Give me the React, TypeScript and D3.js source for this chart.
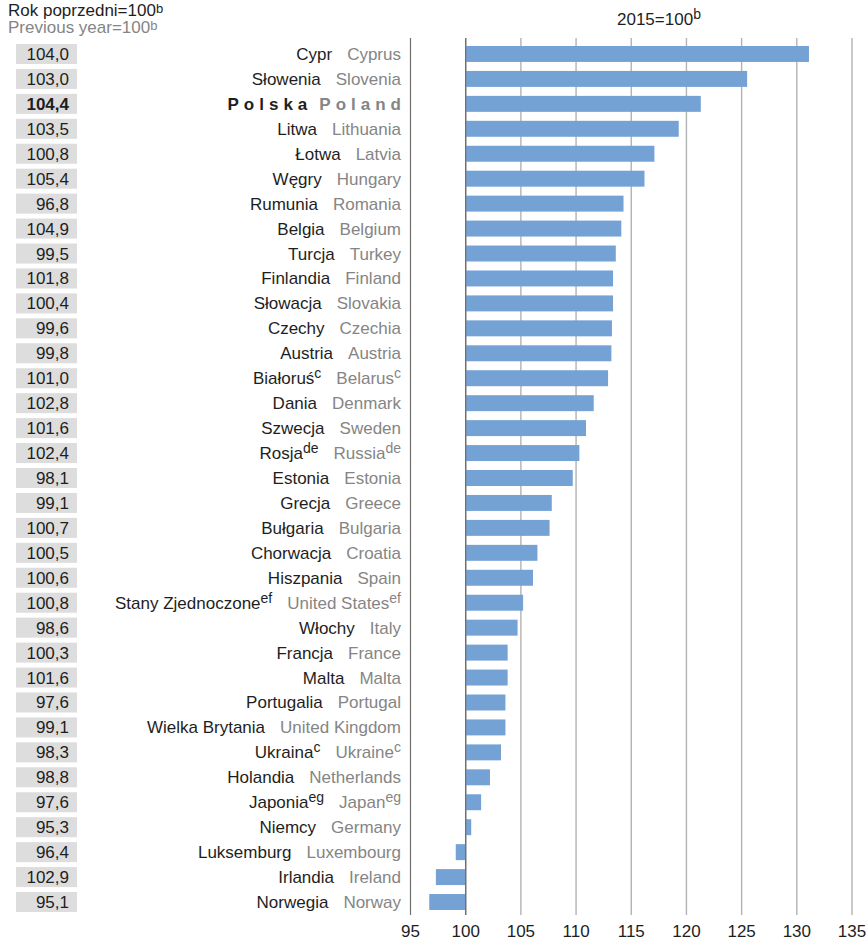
import React from 'react';
import * as d3 from 'd3';

const countriesPL = [
  'Cypr', 'Słowenia', 'Polska', 'Litwa', 'Łotwa', 'Węgry', 'Rumunia', 'Belgia', 'Turcja', 'Finlandia',
  'Słowacja', 'Czechy', 'Austria', 'Białoruś', 'Dania', 'Szwecja', 'Rosja', 'Estonia', 'Grecja', 'Bułgaria',
  'Chorwacja', 'Hiszpania', 'Stany Zjednoczone', 'Włochy', 'Francja', 'Malta', 'Portugalia', 'Wielka Brytania',
  'Ukraina', 'Holandia', 'Japonia', 'Niemcy', 'Luksemburg', 'Irlandia', 'Norwegia',
];
const countriesEN = [
  'Cyprus', 'Slovenia', 'Poland', 'Lithuania', 'Latvia', 'Hungary', 'Romania', 'Belgium', 'Turkey', 'Finland',
  'Slovakia', 'Czechia', 'Austria', 'Belarus', 'Denmark', 'Sweden', 'Russia', 'Estonia', 'Greece', 'Bulgaria',
  'Croatia', 'Spain', 'United States', 'Italy', 'France', 'Malta', 'Portugal', 'United Kingdom',
  'Ukraine', 'Netherlands', 'Japan', 'Germany', 'Luxembourg', 'Ireland', 'Norway',
];
const notes = [
  '', '', '', '', '', '', '', '', '', '',
  '', '', '', 'c', '', '', 'de', '', '', '',
  '', '', 'ef', '', '', '', '', '',
  'c', '', 'eg', '', '', '', '',
];
const index2015 = [
  131.1, 125.5, 121.3, 119.3, 117.1, 116.2, 114.3, 114.1, 113.6, 113.35,
  113.35, 113.25, 113.2, 112.9, 111.6, 110.9, 110.3, 109.7, 107.8, 107.6,
  106.5, 106.1, 105.2, 104.7, 103.8, 103.8, 103.6, 103.6,
  103.2, 102.2, 101.4, 100.5, 99.1, 97.3, 96.7,
];
const prevYear = [
  104.0, 103.0, 104.4, 103.5, 100.8, 105.4, 96.8, 104.9, 99.5, 101.8,
  100.4, 99.6, 99.8, 101.0, 102.8, 101.6, 102.4, 98.1, 99.1, 100.7,
  100.5, 100.6, 100.8, 98.6, 100.3, 101.6, 97.6, 99.1,
  98.3, 98.8, 97.6, 95.3, 96.4, 102.9, 95.1,
];
const xTicks = [95, 100, 105, 110, 115, 120, 125, 130, 135];
const highlight = 'Polska';

const FONT = '"Liberation Sans", Arial, Helvetica, sans-serif';
const BAR = '#74a2d5';
const DARK = '#1e1e1e';
const GREY = '#858585';
const FS = 17;
const SUP = 14;

export default function App() {
  const W = 866;
  const H = 940;
  const x = d3.scaleLinear().domain([95, 135]).range([410.5, 852]);
  const y = d3
    .scaleBand<string>()
    .domain(countriesPL)
    .range([41.5, 914.5])
    .paddingInner(0.36)
    .paddingOuter(0.18);
  const fmt = (v: number) => d3.format('.1f')(v).replace('.', ',');
  const gridTop = 38;
  const gridBottom = 915;

  return (
    <svg
      width={W}
      height={H}
      style={{ position: 'absolute', left: 0, top: 0, background: '#fff' }}
      fontFamily={FONT}
    >
      {/* header texts */}
      <text x={8} y={16} fontSize={FS} fill={DARK}>
        Rok poprzedni=100
        <tspan fontSize={13} dy={-3}>b</tspan>
      </text>
      <text x={8} y={33} fontSize={FS} fill={GREY}>
        Previous year=100
        <tspan fontSize={13} dy={-3}>b</tspan>
      </text>
      <text x={617} y={25} fontSize={FS} fill={DARK}>
        2015=100
        <tspan fontSize={SUP} dy={-6}>b</tspan>
      </text>

      {/* gridlines */}
      {xTicks.map((t) => (
        <line
          key={t}
          x1={x(t)}
          x2={x(t)}
          y1={gridTop}
          y2={gridBottom}
          stroke={t === 95 || t === 100 ? '#6f6f6f' : '#b3b3b3'}
          strokeWidth={t === 95 || t === 100 ? 1.2 : 1.4}
        />
      ))}
      {xTicks.map((t) => (
        <text key={'l' + t} x={x(t)} y={937} fontSize={FS} fill={DARK} textAnchor="middle">
          {t}
        </text>
      ))}

      {/* bars */}
      {countriesPL.map((c, i) => {
        const v = index2015[i];
        const x0 = x(Math.min(100, v));
        const x1 = x(Math.max(100, v));
        return (
          <rect
            key={'b' + c}
            x={x0}
            y={y(c)}
            width={x1 - x0}
            height={y.bandwidth()}
            fill={BAR}
          />
        );
      })}
      <line x1={x(100)} x2={x(100)} y1={gridTop} y2={gridBottom} stroke="#6f6f6f" strokeWidth={1.2} />

      {/* left value boxes */}
      {countriesPL.map((c, i) => {
        const cy = (y(c) as number) + y.bandwidth() / 2;
        const bold = c === highlight;
        return (
          <g key={'v' + c}>
            <rect x={16} y={cy - 10} width={61} height={20} fill="#dddddd" />
            <text
              x={69}
              y={cy + 6}
              fontSize={FS}
              fill={DARK}
              textAnchor="end"
              fontWeight={bold ? 'bold' : 'normal'}
            >
              {fmt(prevYear[i])}
            </text>
          </g>
        );
      })}

      {/* country labels */}
      {countriesPL.map((c, i) => {
        const cy = (y(c) as number) + y.bandwidth() / 2;
        const n = notes[i];
        if (c === highlight) {
          return (
            <text
              key={'c' + c}
              x={401 + 5}
              y={cy + 6}
              fontSize={FS}
              fontWeight="bold"
              letterSpacing={5}
              textAnchor="end"
            >
              <tspan fill={DARK}>{c}</tspan>
              <tspan fill={GREY} dx={7}>{countriesEN[i]}</tspan>
            </text>
          );
        }
        return (
          <text key={'c' + c} x={401} y={cy + 6} fontSize={FS} textAnchor="end">
            <tspan fill={DARK}>{c}</tspan>
            {n ? (
              <tspan fill={DARK} fontSize={SUP} dy={-6}>
                {n}
              </tspan>
            ) : null}
            <tspan fill={GREY} dx={15} dy={n ? 6 : 0}>
              {countriesEN[i]}
            </tspan>
            {n ? (
              <tspan fill={GREY} fontSize={SUP} dy={-6}>
                {n}
              </tspan>
            ) : null}
          </text>
        );
      })}
    </svg>
  );
}
